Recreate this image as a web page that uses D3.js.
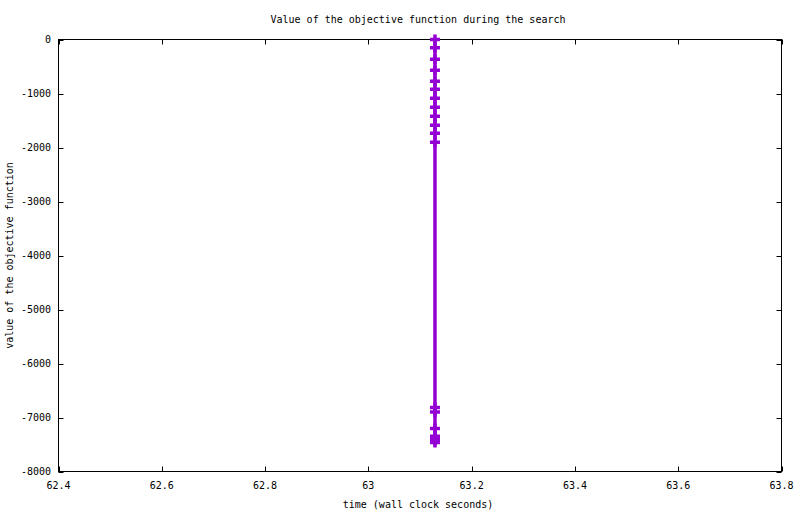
<!DOCTYPE html>
<html>
<head>
<meta charset="utf-8">
<script src="https://cdn.jsdelivr.net/npm/d3@7"></script>
<style>
  html, body { margin: 0; padding: 0; background: #fff; }
  svg text { font-family: "DejaVu Sans Mono", "Liberation Mono", monospace; font-size: 10px; fill: #000; }
</style>
</head>
<body>
<svg id="chart" width="800" height="514"></svg>
<script>
/* gnuplot-style line chart: objective value over wall clock time */

const times = [
  63.129, 63.129, 63.129, 63.129, 63.129, 63.129, 63.129, 63.129, 63.129, 63.129,
  63.129, 63.129, 63.129, 63.129, 63.129, 63.129, 63.129, 63.129, 63.129
];
const objectiveValues = [
  0, -155, -366, -570, -772, -920, -1087, -1253, -1420, -1587,
  -1735, -1902, -6815, -6896, -7204, -7346, -7383, -7420, -7463
];
const xTicks = [62.4, 62.6, 62.8, 63, 63.2, 63.4, 63.6, 63.8];
const xTickLabels = ['62.4', '62.6', '62.8', '63', '63.2', '63.4', '63.6', '63.8'];
const yTicks = [0, -1000, -2000, -3000, -4000, -5000, -6000, -7000, -8000];
const yTickLabels = ['0', '-1000', '-2000', '-3000', '-4000', '-5000', '-6000', '-7000', '-8000'];

const svg = d3.select('#chart');
const plotL = 58.5, plotR = 781.5, plotT = 39.5, plotB = 471.5;
const purple = '#9400d3';

const x = d3.scaleLinear().domain([62.4, 63.8]).range([plotL, plotR]);
const y = d3.scaleLinear().domain([-8000, 0]).range([plotB, plotT]);

// frame
svg.append('rect')
  .attr('x', plotL).attr('y', plotT)
  .attr('width', plotR - plotL).attr('height', plotB - plotT)
  .attr('fill', 'none').attr('stroke', '#000').attr('stroke-width', 1);

// ticks (inward, mirrored)
const TL = 5;
const g = svg.append('g').attr('stroke', '#000').attr('stroke-width', 1);
xTicks.forEach(t => {
  const px = Math.round(x(t)) + 0.5;
  g.append('line').attr('x1', px).attr('x2', px).attr('y1', plotB).attr('y2', plotB - TL);
  g.append('line').attr('x1', px).attr('x2', px).attr('y1', plotT).attr('y2', plotT + TL);
});
yTicks.forEach(t => {
  const py = Math.round(y(t)) + 0.5;
  g.append('line').attr('x1', plotL).attr('x2', plotL + TL).attr('y1', py).attr('y2', py);
  g.append('line').attr('x1', plotR).attr('x2', plotR - TL).attr('y1', py).attr('y2', py);
});

// tick labels
xTicks.forEach((t, i) => {
  svg.append('text').attr('x', x(t)).attr('y', 489)
    .attr('text-anchor', 'middle').text(xTickLabels[i]);
});
yTicks.forEach((t, i) => {
  svg.append('text').attr('x', 51).attr('y', y(t) + 3.5)
    .attr('text-anchor', 'end').text(yTickLabels[i]);
});

// titles
svg.append('text').attr('x', 418).attr('y', 23).attr('text-anchor', 'middle')
  .text('Value of the objective function during the search');
svg.append('text').attr('x', 418).attr('y', 508).attr('text-anchor', 'middle')
  .text('time (wall clock seconds)');
svg.append('text').attr('transform', `translate(13,${(plotT + plotB) / 2}) rotate(-90)`)
  .attr('text-anchor', 'middle').text('value of the objective function');

// data line
const pts = times.map((t, i) => ({ t, v: objectiveValues[i] }));
const line = d3.line().x(d => x(d.t)).y(d => y(d.v));
svg.append('path').datum(pts)
  .attr('d', line)
  .attr('fill', 'none').attr('stroke', purple).attr('stroke-width', 3.5);

// '+' markers
const S = 5;
svg.append('g').selectAll('path').data(pts).enter().append('path')
  .attr('d', d => {
    const cx = x(d.t), cy = y(d.v);
    return `M${cx - S},${cy}H${cx + S}M${cx},${cy - S}V${cy + S}`;
  })
  .attr('fill', 'none').attr('stroke', purple).attr('stroke-width', 3.5);
</script>
</body>
</html>
